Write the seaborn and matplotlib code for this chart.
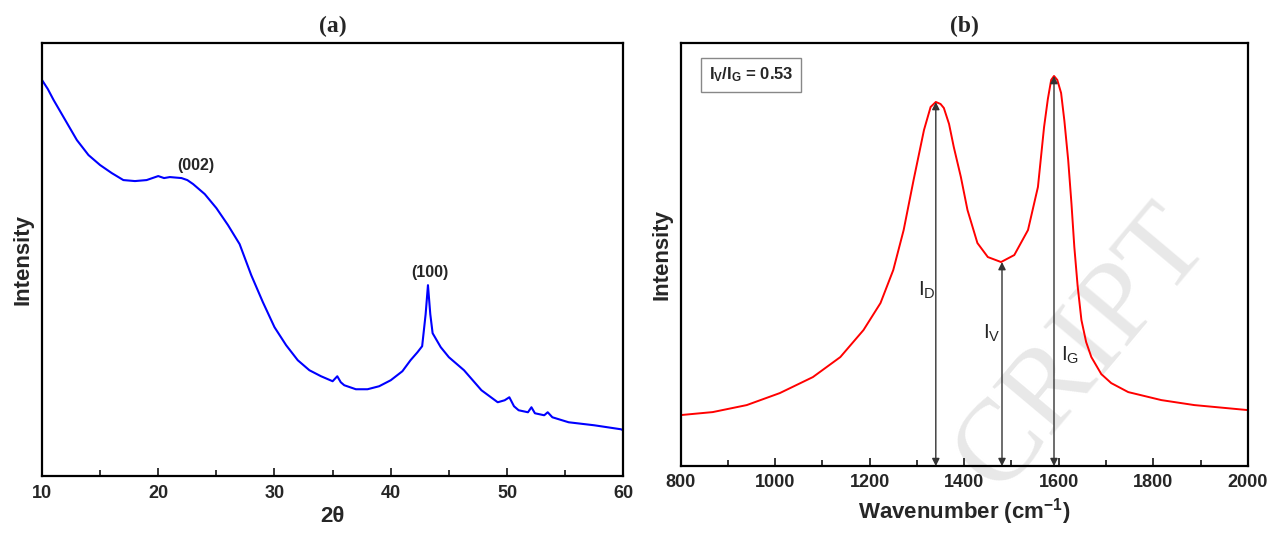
import numpy as np
import pandas as pd
import seaborn as sns
import matplotlib.pyplot as plt
from matplotlib.ticker import MultipleLocator

# (a) XRD pattern (arbitrary intensity units)
two_theta = [10, 10.5, 11, 12, 13, 14, 15, 16, 17, 18, 19, 20, 20.5, 21, 22, 22.5,
             23, 24, 25, 26, 27, 28, 29, 30, 31, 32, 33, 34, 35, 35.4, 35.7, 36,
             37, 38, 39, 40, 41, 41.7, 42.3, 42.7, 43.0, 43.2, 43.4, 43.6, 44.3, 45,
             46.3, 47.8, 49.2, 49.8, 50.2, 50.6, 51, 51.8, 52.1, 52.4, 53.2, 53.5,
             53.9, 55.3, 57.5, 59.8, 60]
xrd_int = [394, 385, 374, 354, 334, 319, 309, 301, 294, 293, 294, 298, 296, 297, 296, 294,
           290, 280, 266, 249, 230, 199, 172, 147, 129, 114, 104, 98, 93, 98, 92, 89,
           85, 85, 88, 94, 103, 114, 122, 128, 160, 189, 160, 141, 127, 117,
           104, 84, 72, 74, 77, 68, 64, 62, 67, 61, 59, 62,
           57, 52, 49, 45, 44]
xrd_peaks = ["(002)", "(100)"]
xrd_peak_pos = [(23.2, 309), (43.4, 202)]

# (b) Raman spectrum
wavenumber = [800, 868, 940, 1010, 1080, 1138, 1187, 1223, 1250, 1272, 1293, 1315, 1329,
              1340, 1350, 1357, 1368, 1378, 1393, 1407, 1428, 1450, 1478, 1506, 1535,
              1556, 1569, 1577, 1584, 1590, 1597, 1605, 1612, 1620, 1627, 1633, 1640,
              1648, 1658, 1669, 1690, 1711, 1747, 1817, 1887, 2000]
raman_int = [49, 52, 59, 71, 87, 107, 134, 161, 194, 234, 284, 334, 357,
             362, 360, 356, 340, 317, 287, 254, 221, 207, 202, 209, 234,
             277, 337, 365, 384, 388, 384, 371, 343, 304, 260, 217, 178,
             144, 122, 107, 90, 81, 72, 64, 59, 54]
arrow_labels = [r"$\mathrm{I_D}$", r"$\mathrm{I_V}$", r"$\mathrm{I_G}$"]
arrow_x = [1340, 1480, 1590]
arrow_top = [362, 202, 388]
label_pos = [(1322, 174), (1458, 131), (1625, 109)]

df_a = pd.DataFrame({"2theta": two_theta, "intensity": xrd_int})
df_b = pd.DataFrame({"wavenumber": wavenumber, "intensity": raman_int})

sns.set_style("ticks")
plt.rcParams['font.family'] = ['Liberation Sans', 'DejaVu Sans']
plt.rcParams['mathtext.fontset'] = 'custom'
plt.rcParams['mathtext.rm'] = 'Liberation Sans'
plt.rcParams['mathtext.bf'] = 'Liberation Sans:bold'
plt.rcParams['mathtext.it'] = 'Liberation Sans:italic'

fig = plt.figure(figsize=(12.72, 5.37), dpi=100)
ax1 = fig.add_axes([0.033, 0.113, 0.457, 0.807])
ax2 = fig.add_axes([0.535, 0.132, 0.446, 0.788])

# watermark behind the axes
fig.text(0.935, 0.585, "CRIPT", rotation=50, rotation_mode='anchor',
         ha='right', va='center', fontsize=84, color='#e8e8e8',
         family='Liberation Serif', zorder=-1)

sns.lineplot(data=df_a, x="2theta", y="intensity", ax=ax1, color='#0000ff', lw=1.5)
sns.lineplot(data=df_b, x="wavenumber", y="intensity", ax=ax2, color='#ff0000', lw=1.4)

for ax in (ax1, ax2):
    ax.set_facecolor('none')
    for s in ax.spines.values():
        s.set_linewidth(1.6)
        s.set_color('black')
    ax.set_yticks([])
    ax.tick_params(axis='x', which='major', direction='in', length=6, width=1.3,
                   labelsize=13, pad=6)
    ax.tick_params(axis='x', which='minor', direction='in', length=4, width=1.3)
    ax.set_ylabel("Intensity", fontsize=16, fontweight='bold', labelpad=6)

ax1.set_xlim(10, 60)
ax1.set_ylim(-2, 431)
ax1.xaxis.set_major_locator(MultipleLocator(10))
ax1.xaxis.set_minor_locator(MultipleLocator(5))
ax1.set_xlabel("2θ", fontsize=16, fontweight='bold', labelpad=3)
ax1.set_title("(a)", fontsize=17, fontweight='bold', family='Liberation Serif', pad=8)
for lab, (px, py) in zip(xrd_peaks, xrd_peak_pos):
    ax1.text(px, py, lab, ha='center', va='center', fontsize=11.5, fontweight='bold')

ax2.set_xlim(800, 2000)
ax2.set_ylim(-2, 421)
ax2.xaxis.set_major_locator(MultipleLocator(200))
ax2.xaxis.set_minor_locator(MultipleLocator(100))
ax2.set_xlabel(r"Wavenumber (cm$^{\mathbf{-1}}$)", fontsize=16, fontweight='bold', labelpad=3)
ax2.set_title("(b)", fontsize=17, fontweight='bold', family='Liberation Serif', pad=8)
for ax in (ax1, ax2):
    for lab in ax.get_xticklabels():
        lab.set_fontweight('bold')

for x, top in zip(arrow_x, arrow_top):
    ax2.annotate("", xy=(x, top), xytext=(x, -2),
                 arrowprops=dict(arrowstyle='<|-|>', color='#333333', lw=1.0,
                                 mutation_scale=11, shrinkA=0, shrinkB=0))
for lab, (px, py) in zip(arrow_labels, label_pos):
    ax2.text(px, py, lab, ha='center', va='center', fontsize=15)

ax2.text(0.05, 0.925, r"$\mathbf{I_V/I_G}$ = 0.53", transform=ax2.transAxes,
         ha='left', va='center', fontsize=12, fontweight='bold',
         bbox=dict(boxstyle='square,pad=0.45', facecolor='white', edgecolor='#888888', lw=1))

fig.savefig("out.png", dpi=100)
